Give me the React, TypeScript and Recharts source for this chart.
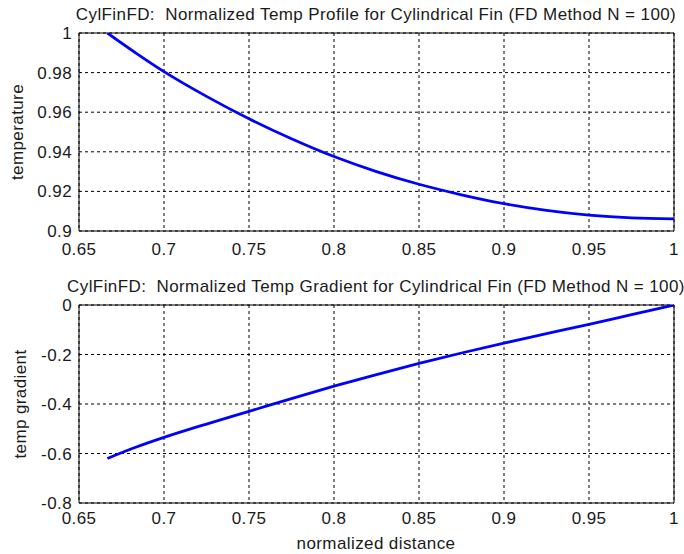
import React from 'react';
import { LineChart, Line, XAxis, YAxis, CartesianGrid, ReferenceLine } from 'recharts';

// normalized distance along the fin
const distance = [0.6667, 0.6833, 0.7, 0.725, 0.75, 0.775, 0.8, 0.825, 0.85, 0.875, 0.9, 0.925, 0.95, 0.975, 1.0];
const temperature = [1.0, 0.99, 0.9805, 0.968, 0.9567, 0.9466, 0.9376, 0.93, 0.9236, 0.9183, 0.9138, 0.9104, 0.908, 0.9066, 0.9061];
const gradient = [-0.62, -0.575, -0.535, -0.481, -0.43, -0.378, -0.328, -0.281, -0.236, -0.194, -0.154, -0.116, -0.078, -0.039, 0];

const xTicks = [0.65, 0.7, 0.75, 0.8, 0.85, 0.9, 0.95, 1];
const tempTicks = [0.9, 0.92, 0.94, 0.96, 0.98, 1];
const gradTicks = [-0.8, -0.6, -0.4, -0.2, 0];

const profileTitle = 'CylFinFD:  Normalized Temp Profile for Cylindrical Fin (FD Method N = 100)';
const gradientTitle = 'CylFinFD:  Normalized Temp Gradient for Cylindrical Fin (FD Method N = 100)';

const tempData = distance.map((x, i) => ({ x, t: temperature[i] }));
const gradData = distance.map((x, i) => ({ x, g: gradient[i] }));

const FONT = '"Liberation Sans", Arial, Helvetica, sans-serif';
const TEXT = '#1a1a1a';
const tickStyle = { fill: TEXT, fontSize: 17, fontFamily: FONT, letterSpacing: 0.4 };
const textStyle: React.CSSProperties = {
  position: 'absolute', whiteSpace: 'pre', fontFamily: FONT, fontSize: 17,
  lineHeight: '17px', letterSpacing: 0.4, color: TEXT,
};

const fmt = (v: number) => String(Number(v.toFixed(2)));

const Title: React.FC<{ text: string; top: number }> = ({ text, top }) => (
  <div style={{ ...textStyle, top, left: 376, transform: 'translateX(-50%)' }}>{text}</div>
);

const VLabel: React.FC<{ text: string; cx: number; cy: number }> = ({ text, cx, cy }) => (
  <div style={{ ...textStyle, left: cx, top: cy, transform: 'translate(-50%, -50%) rotate(-90deg)' }}>{text}</div>
);

export default function App() {
  return (
    <div style={{ position: 'absolute', left: 0, top: 0, width: 684, height: 554, background: '#fff', overflow: 'hidden' }}>
      <Title text={profileTitle} top={6} />
      <Title text={gradientTitle} top={278} />
      <VLabel text="temperature" cx={17} cy={132} />
      <VLabel text="temp gradient" cx={20} cy={404} />
      <div style={{ ...textStyle, left: 376, top: 535, transform: 'translateX(-50%)' }}>normalized distance</div>

      <div style={{ position: 'absolute', left: 0, top: 0 }}>
        <LineChart width={684} height={262} data={tempData} margin={{ top: 33, right: 10, bottom: 0, left: 0 }}>
          <CartesianGrid stroke="#000" strokeDasharray="3 3" />
          <XAxis
            dataKey="x" type="number" domain={[0.65, 1]} ticks={xTicks} allowDataOverflow
            tickFormatter={fmt} height={31} stroke="#000" tickLine={false} tickSize={4} tickMargin={8}
            tick={tickStyle} interval={0}
          />
          <YAxis
            type="number" domain={[0.9, 1]} ticks={tempTicks} allowDataOverflow
            tickFormatter={fmt} width={79} stroke="#000" tickLine={false} tickSize={4} tickMargin={3}
            tick={tickStyle} interval={0}
          />
          <ReferenceLine y={1} stroke="#000" />
          <ReferenceLine x={1} stroke="#000" />
          <Line dataKey="t" type="monotone" stroke="#0000ff" strokeWidth={2.8} dot={false} isAnimationActive={false} />
        </LineChart>
      </div>

      <div style={{ position: 'absolute', left: 0, top: 262 }}>
        <LineChart width={684} height={292} data={gradData} margin={{ top: 43, right: 10, bottom: 0, left: 0 }}>
          <CartesianGrid stroke="#000" strokeDasharray="3 3" />
          <XAxis
            dataKey="x" type="number" domain={[0.65, 1]} ticks={xTicks} allowDataOverflow
            tickFormatter={fmt} height={51} stroke="#000" tickLine={false} tickSize={4} tickMargin={5}
            tick={tickStyle} interval={0}
          />
          <YAxis
            type="number" domain={[-0.8, 0]} ticks={gradTicks} allowDataOverflow
            tickFormatter={fmt} width={79} stroke="#000" tickLine={false} tickSize={4} tickMargin={3}
            tick={tickStyle} interval={0}
          />
          <ReferenceLine y={0} stroke="#000" />
          <ReferenceLine x={1} stroke="#000" />
          <Line dataKey="g" type="monotone" stroke="#0000ff" strokeWidth={2.8} dot={false} isAnimationActive={false} />
        </LineChart>
      </div>
    </div>
  );
}
